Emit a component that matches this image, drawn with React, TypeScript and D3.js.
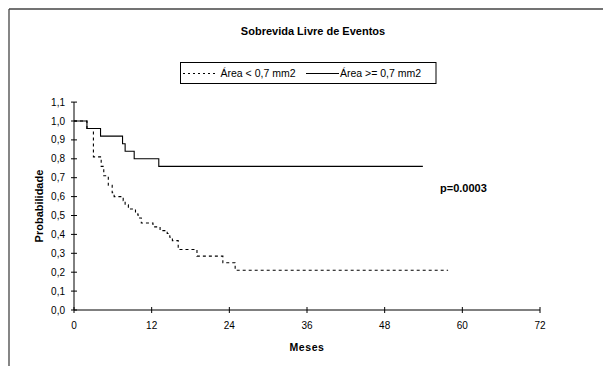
import React from "react";
import * as d3 from "d3";

const chartTitle = "Sobrevida Livre de Eventos";
const xTitle = "Meses";
const yTitle = "Probabilidade";
const pValueLabel = "p=0.0003";

const xTicks = [0, 12, 24, 36, 48, 60, 72];
const yTicks = [0, 0.1, 0.2, 0.3, 0.4, 0.5, 0.6, 0.7, 0.8, 0.9, 1.0, 1.1];

const smallName = "Área < 0,7 mm2";
const smallTimes = [0, 2.0, 3.0, 4.2, 4.6, 5.3, 5.9, 6.2, 7.6, 7.9, 8.4, 9.5, 9.9, 10.4, 12.2, 13.3, 14.4, 14.8, 15.2, 16.1, 19.0, 23.0, 24.9, 57.8];
const smallSurv = [1.0, 0.96, 0.81, 0.76, 0.71, 0.66, 0.62, 0.6, 0.578, 0.556, 0.534, 0.508, 0.487, 0.46, 0.44, 0.42, 0.405, 0.385, 0.367, 0.32, 0.285, 0.25, 0.21, 0.21];

const largeName = "Área >= 0,7 mm2";
const largeTimes = [0, 2.0, 4.1, 7.5, 7.9, 9.3, 13.1, 53.9];
const largeSurv = [1.0, 0.96, 0.92, 0.88, 0.84, 0.8, 0.76, 0.76];

const W = 603;
const H = 366;
const font = "'Liberation Sans', Arial, sans-serif";

export default function App() {
  const x = d3.scaleLinear().domain([0, 72]).range([74, 540]);
  const y = d3.scaleLinear().domain([0, 1.1]).range([310, 102.1]);
  const line = d3
    .line<[number, number]>()
    .x((d) => x(d[0]))
    .y((d) => y(d[1]))
    .curve(d3.curveStepAfter);
  const smallPts = smallTimes.map((t, i) => [t, smallSurv[i]] as [number, number]);
  const largePts = largeTimes.map((t, i) => [t, largeSurv[i]] as [number, number]);
  const fmtY = (v: number) => v.toFixed(1).replace(".", ",");

  return (
    <div style={{ position: "absolute", left: 0, top: 0 }}>
      <svg width={W} height={H} style={{ display: "block", background: "#fff" }} fontFamily={font}>
        <rect x={0} y={0} width={W} height={H} fill="#fff" />
        <line x1={9} y1={9} x2={W} y2={9} stroke="#444" strokeWidth={1.3} />
        <line x1={9} y1={9} x2={9} y2={H} stroke="#444" strokeWidth={1.3} />

        <text x={313} y={35} textAnchor="middle" fontSize={11} fontWeight="bold" fill="#000">
          {chartTitle}
        </text>

        {/* legend */}
        <rect x={180.5} y={62.5} width={255.5} height={21} fill="#fff" stroke="#000" strokeWidth={1} />
        <line x1={183} y1={73.5} x2={218} y2={73.5} stroke="#000" strokeWidth={1} strokeDasharray="2,3" />
        <text x={220.5} y={77} fontSize={10.5} fill="#000">{smallName}</text>
        <line x1={306} y1={73.5} x2={339} y2={73.5} stroke="#000" strokeWidth={1} />
        <text x={340} y={77} fontSize={10.5} fill="#000">{largeName}</text>

        {/* axes */}
        <line x1={x(0)} y1={y(0)} x2={x(72)} y2={y(0)} stroke="#000" strokeWidth={1} />
        <line x1={x(0)} y1={y(0)} x2={x(0)} y2={y(1.1)} stroke="#000" strokeWidth={1} />
        {xTicks.map((t) => (
          <g key={"xt" + t}>
            <line x1={x(t)} x2={x(t)} y1={y(0) - 3} y2={y(0) + 3} stroke="#000" />
            <text x={x(t)} y={y(0) + 19} textAnchor="middle" fontSize={10} fill="#000">
              {t}
            </text>
          </g>
        ))}
        {yTicks.map((t) => (
          <g key={"yt" + t}>
            <line x1={x(0) - 3} x2={x(0) + 3} y1={y(t)} y2={y(t)} stroke="#000" />
            <text x={65} y={y(t) + 3.5} textAnchor="end" fontSize={10} fill="#000">
              {fmtY(t)}
            </text>
          </g>
        ))}

        <text x={307} y={351} textAnchor="middle" fontSize={10.5} fontWeight="bold" letterSpacing={0.6} fill="#000">
          {xTitle}
        </text>
        <text
          transform={`translate(43, ${(y(0) + y(1.1)) / 2}) rotate(-90)`}
          textAnchor="middle"
          fontSize={11}
          fontWeight="bold"
          fill="#000"
        >
          {yTitle}
        </text>

        {/* curves */}
        <path d={line(largePts) || ""} fill="none" stroke="#000" strokeWidth={1.1} />
        <path d={line(smallPts) || ""} fill="none" stroke="#000" strokeWidth={1.1} strokeDasharray="3,3" />

        <text x={440} y={192} fontSize={11} fontWeight="bold" fill="#000">
          {pValueLabel}
        </text>
      </svg>
    </div>
  );
}
